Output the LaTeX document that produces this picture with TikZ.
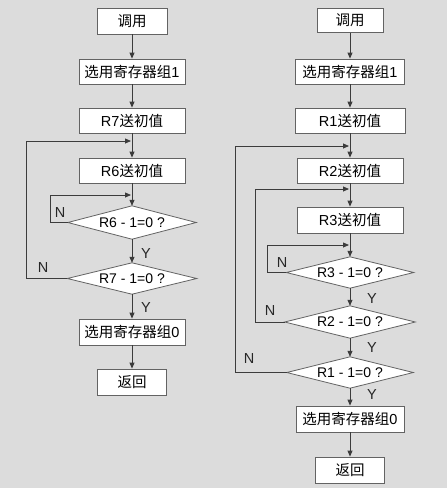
\documentclass[tikz,border=0pt]{standalone}
\usepackage{fontspec}
\setmainfont{Liberation Sans}
\newfontfamily\cjk{Noto Sans CJK SC}
\usetikzlibrary{arrows.meta}
\pgfdeclarelayer{back}
\pgfsetlayers{back,main}
\definecolor{bg}{RGB}{220,220,220}
\definecolor{ln}{RGB}{60,60,60}
\tikzset{
  box/.style={draw=ln!80, fill=white, line width=0.8pt, minimum height=25pt, inner sep=0pt, font=\fontsize{14.5}{15}\selectfont},
  dia/.style={rectangle, inner sep=0pt, font=\fontsize{14}{15}\selectfont},
  diaedge/.style={draw=ln!80, fill=white, line width=0.8pt},
  arr/.style={draw=ln, line width=0.8pt, -{Triangle[length=6pt,width=5pt]}},
  lbl/.style={font=\fontsize{14.5}{15}\selectfont, text=black!85}
}
\newcommand{\diashape}[1]{\begin{pgfonlayer}{back}\path[diaedge] (#1.west) -- (#1.north) -- (#1.east) -- (#1.south) -- cycle;\end{pgfonlayer}}
\begin{document}
\begin{tikzpicture}[x=1pt,y=-1pt]
\begin{pgfonlayer}{back}
\fill[bg] (0,0) rectangle (447,488);
\end{pgfonlayer}
\useasboundingbox (0,0) rectangle (447,488);
% left column
\node[box, minimum width=70pt, minimum height=26pt] (c1) at (132,21) {\cjk 调用};
\node[box, minimum width=106pt] (s1) at (132,71.5) {{\cjk 选用寄存器组}1};
\node[box, minimum width=106pt] (r7) at (132,120.5) {R7{\cjk 送初值}};
\node[box, minimum width=106pt] (r6) at (132,170.5) {R6{\cjk 送初值}};
\node[dia, minimum width=128pt, minimum height=33pt] (d6) at (132,222.5) {R6 - 1=0 ?};
\node[dia, minimum width=129pt, minimum height=31pt] (d7) at (132,278.5) {R7 - 1=0 ?};
\node[box, minimum width=106pt, minimum height=26pt] (s0) at (132,332) {{\cjk 选用寄存器组}0};
\node[box, minimum width=69pt, minimum height=26pt] (e1) at (132,382) {\cjk 返回};
\diashape{d6}
\diashape{d7}
\coordinate (j7) at (132,141);
\coordinate (j6) at (132,195);
\draw[arr] (c1) -- (s1);
\draw[arr] (s1) -- (r7);
\draw[arr] (r7) -- (r6);
\draw[arr] (r6) -- (d6.north);
\draw[arr] (d6.south) -- (d7.north);
\draw[arr] (d7.south) -- (s0);
\draw[arr] (s0) -- (e1);
\draw[arr, shorten >=1pt] (d6.west) -- (50,222.5) |- (j6);
\draw[arr, shorten >=1pt] (d7.west) -- (26,278.5) |- (j7);
\node[lbl] (n6) at (60,213) {N};
\node[lbl] (n7) at (43,268) {N};
\node[lbl] (y6) at (146,254) {Y};
\node[lbl] (y7) at (146,308) {Y};
% right column
\node[box, minimum width=66pt, minimum height=24pt] (c2) at (350,20.5) {\cjk 调用};
\node[box, minimum width=109pt] (t1) at (350,71.5) {{\cjk 选用寄存器组}1};
\node[box, minimum width=110pt] (r1) at (350,120.5) {R1{\cjk 送初值}};
\node[box, minimum width=106pt] (r2) at (350,170.5) {R2{\cjk 送初值}};
\node[box, minimum width=106pt, minimum height=26pt] (r3) at (350,220) {R3{\cjk 送初值}};
\node[dia, minimum width=127pt, minimum height=31pt] (d3) at (350,272.5) {R3 - 1=0 ?};
\node[dia, minimum width=130pt, minimum height=32pt] (d2) at (350,322) {R2 - 1=0 ?};
\node[dia, minimum width=126pt, minimum height=31pt] (d1) at (350,372.5) {R1 - 1=0 ?};
\node[box, minimum width=108pt, minimum height=26pt] (t0) at (350,419) {{\cjk 选用寄存器组}0};
\node[box, minimum width=69pt, minimum height=26pt] (e2) at (350,470) {\cjk 返回};
\diashape{d3}
\diashape{d2}
\diashape{d1}
\coordinate (k1) at (350,146);
\coordinate (k2) at (350,189);
\coordinate (k3) at (350,245);
\draw[arr] (c2) -- (t1);
\draw[arr] (t1) -- (r1);
\draw[arr] (r1) -- (r2);
\draw[arr] (r2) -- (r3);
\draw[arr] (r3) -- (d3.north);
\draw[arr] (d3.south) -- (d2.north);
\draw[arr] (d2.south) -- (d1.north);
\draw[arr] (d1.south) -- (t0);
\draw[arr] (t0) -- (e2);
\draw[arr, shorten >=1pt] (d3.west) -- (267,272.5) |- (k3);
\draw[arr, shorten >=1pt] (d2.west) -- (255,322) |- (k2);
\draw[arr, shorten >=1pt] (d1.west) -- (235,372.5) |- (k1);
\node[lbl] (n3) at (282,263) {N};
\node[lbl] (n2) at (270,311) {N};
\node[lbl] (n1) at (249,359) {N};
\node[lbl] (y3) at (372,299) {Y};
\node[lbl] (y2) at (372,348) {Y};
\node[lbl] (y1) at (372,395) {Y};
\end{tikzpicture}
\end{document}
